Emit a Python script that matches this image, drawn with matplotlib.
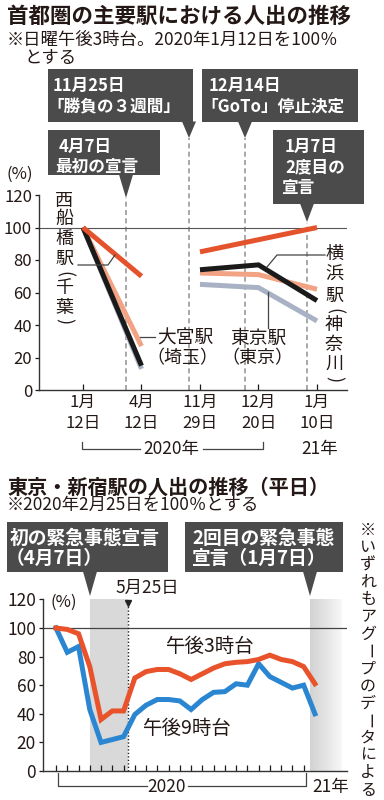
import numpy as np
import matplotlib
matplotlib.use('Agg')
import matplotlib.pyplot as plt
from matplotlib.patches import Polygon, Rectangle
from matplotlib.colors import LinearSegmentedColormap

plt.rcParams['font.family'] = ['Noto Sans CJK JP', 'DejaVu Sans']

# ---------------- data: top chart (Sunday 3pm, 2020-01-12 = 100%)
top_dates = ['1月\n12日', '4月\n12日', '11月\n29日', '12月\n20日', '1月\n10日']
nishifunabashi = [100, 70, 85, 92.5, 100]   # 西船橋駅（千葉）
omiya = [100, 27, 72, 71, 62]               # 大宮駅（埼玉）
yokohama = [100, 15, 74, 77, 55]            # 横浜駅（神奈川）
tokyo_st = [100, 13, 65, 63, 42.5]          # 東京駅（東京）
top_yticks = [0, 20, 40, 60, 80, 100, 120]
top_events_x = [0.73, 1.81, 2.77, 3.83]     # 4/7, 11/25, 12/14, 1/7

# ---------------- data: bottom chart (weekday, 2020-02-25 = 100%), biweekly
pm3 = [100, 99, 96, 73, 36, 42, 42, 65, 69.5, 71, 71, 68, 64, 68, 72, 75,
       76, 76.5, 78, 81, 78, 76.5, 73, 61]
pm9 = [100, 83, 87, 43, 20, 22, 24, 39.5, 46, 50, 50, 49, 43, 50, 55, 55.5,
       61, 60, 75, 66, 62, 58, 60, 40]
bottom_yticks = [0, 20, 40, 60, 80, 100, 120]
emergency1 = (3.0, 6.4)
emergency2 = (22.6, 25.4)
may25 = 6.4

INK = '#231815'
BOXC = '#4b4b4b'

fig = plt.figure(figsize=(3.84, 8.0), dpi=100)
W, H = 384.0, 800.0


def axrect(x0, y0, x1, y1):
    return [x0 / W, 1 - y1 / H, (x1 - x0) / W, (y1 - y0) / H]


# ---------------- top axes
ax1 = fig.add_axes(axrect(39, 195, 347, 390))
ax1.set_xlim(-0.752, 4.513)
ax1.set_ylim(0, 120)
xs = np.arange(len(top_dates))
for vals, col, z in [(tokyo_st, '#a8b2c4', 3), (omiya, '#f2a384', 4),
                     (yokohama, '#1a1a1a', 5), (nishifunabashi, '#e4532b', 6)]:
    ax1.plot(xs[:2], vals[:2], color=col, lw=3.6, solid_capstyle='butt', zorder=z)
    ax1.plot(xs[2:], vals[2:], color=col, lw=3.6, solid_capstyle='butt',
             solid_joinstyle='miter', zorder=z)
ax1.axhline(100, color='#555555', lw=0.8, zorder=1)
tops = [118, 155, 155, 103]
for ex, tp in zip(top_events_x, tops):
    ax1.plot([ex, ex], [0, tp], color='#9a9a9a', lw=1.2, ls=(0, (3, 2)),
             clip_on=False, zorder=0.5)
ax1.set_xticks(xs)
ax1.set_xticklabels(top_dates, fontsize=12, color=INK, linespacing=1.3)
ax1.set_yticks(top_yticks)
ax1.set_yticklabels([str(v) for v in top_yticks], fontsize=12, color=INK)
ax1.tick_params(axis='x', direction='in', length=4, width=0.9, pad=3, colors=INK)
ax1.tick_params(axis='y', direction='out', length=3, width=0.9, pad=2, colors=INK)
for s in ['top', 'right']:
    ax1.spines[s].set_visible(False)
for s in ['left', 'bottom']:
    ax1.spines[s].set_color('#333333')
    ax1.spines[s].set_linewidth(1.0)
ax1.patch.set_alpha(0)

# ---------------- bottom axes
ax2 = fig.add_axes(axrect(43, 599.4, 347, 771))
ax2.set_xlim(-1.155, 25.85)
ax2.set_ylim(0, 120)
idx = np.arange(len(pm3))
ax2.axvspan(*emergency1, color='#d9d9d9', lw=0, zorder=0)
grad = np.linspace(0, 1, 64).reshape(1, -1)
cmap = LinearSegmentedColormap.from_list('g', ['#d3d3d3', '#e4e4e4', '#f8f8f8'])
ax2.imshow(grad, extent=[emergency2[0], emergency2[1], 0, 120], aspect='auto',
           cmap=cmap, zorder=0)
ax2.axhline(100, color='#444444', lw=0.9, zorder=1)
ax2.plot([may25, may25], [0, 116], color='#222222', lw=1.0, ls=(0, (1, 1.5)), zorder=1)
ax2.plot([may25], [117.5], marker='v', ms=5, color='#222222', clip_on=False, zorder=3)
ax2.plot(idx, pm9, color='#2b86d2', lw=3.6, solid_joinstyle='miter', zorder=4)
ax2.plot(idx, pm3, color='#e8532b', lw=3.6, solid_joinstyle='miter', zorder=5)
ax2.set_xticks(np.arange(0, 23))
ax2.set_xticklabels([])
ax2.set_yticks(bottom_yticks)
ax2.set_yticklabels([str(v) for v in bottom_yticks], fontsize=12.5, color=INK)
ax2.tick_params(axis='x', direction='in', length=4, width=0.9, colors=INK)
ax2.tick_params(axis='y', direction='out', length=3, width=0.9, pad=2, colors=INK)
for s in ['top', 'right']:
    ax2.spines[s].set_visible(False)
for s in ['left', 'bottom']:
    ax2.spines[s].set_color('#333333')
    ax2.spines[s].set_linewidth(1.0)
ax2.set_xlim(-1.155, 25.85)
ax2.set_ylim(0, 120)

# ---------------- overlay (pixel coordinates)
ov = fig.add_axes([0, 0, 1, 1], zorder=10)
ov.set_xlim(0, W)
ov.set_ylim(H, 0)
ov.axis('off')
ov.patch.set_alpha(0)


def txt(x, y, s, size, weight='normal', color=INK, ha='left', va='center', **kw):
    ov.text(x, y, s, fontsize=size, fontweight=weight, color=color, ha=ha, va=va, **kw)


def callout(x0, y0, x1, y1, px, tip, half=7):
    ov.add_patch(Rectangle((x0, y0), x1 - x0, y1 - y0, color=BOXC, lw=0))
    ov.add_patch(Polygon([(px - half, y1 - 0.5), (px + half, y1 - 0.5), (px, tip)],
                         closed=True, color=BOXC, lw=0))


def vtext(x, ys, chars, size, weight='normal'):
    for ch, y in zip(chars, ys):
        rot = -90 if ch in '()ー' else 0
        ov.text(x, y, ch, fontsize=size, fontweight=weight, color=INK, ha='center',
                va='center', rotation=rot, rotation_mode='anchor')


# titles
txt(7, 16, '首都圏の主要駅における人出の推移', 15.5, 'bold')
txt(7, 40, '※日曜午後3時台。2020年1月12日を100％', 12.5)
txt(24, 58, 'とする', 12.5)

# top callouts
callout(48, 69, 193, 122, 189, 138)
txt(53, 86, '11月25日', 12, 'bold', 'white')
txt(47, 107, '「勝負の３週間」', 12, 'bold', 'white')
callout(202, 69, 358, 122, 245, 138)
txt(209, 86, '12月14日', 12, 'bold', 'white')
txt(201, 107, '「GoTo」停止決定', 12, 'bold', 'white')
callout(48, 130, 160, 175, 126, 198)
txt(59, 147, '4月7日', 12, 'bold', 'white')
txt(55, 167, '最初の宣言', 12, 'bold', 'white')
callout(273, 130, 364, 204, 307, 222)
txt(285, 147, '1月7日', 12, 'bold', 'white')
txt(285, 167, '2度目の', 12, 'bold', 'white')
txt(281, 188, '宣言', 12, 'bold', 'white')

txt(6, 174, '(%)', 12)

# station labels
vtext(64, [201, 219, 239, 259, 274, 288, 308, 321], '西船橋駅(千葉)', 13)
ov.plot([78, 108, 115], [265, 265, 255], color='#444444', lw=0.9)
txt(185, 338, '大宮駅', 13.5, ha='center')
txt(182, 358, '（埼玉）', 13, ha='center')
ov.plot([140, 155], [337, 337], color='#444444', lw=0.9)
txt(258, 338, '東京駅', 13.5, ha='center')
txt(257, 358, '（東京）', 13, ha='center')
ov.plot([268, 268], [292, 328], color='#444444', lw=0.9)
vtext(334, [254, 275, 296, 311, 325, 345, 364, 379], '横浜駅(神奈川)', 13)
ov.plot([325, 277, 267], [255, 255, 267], color='#444444', lw=0.9)

# top year bracket
ov.plot([82, 82, 140], [442, 449, 449], color='#444444', lw=0.9)
ov.plot([203, 263, 263], [449, 449, 442], color='#444444', lw=0.9)
txt(171, 449, '2020年', 12.5, ha='center')
txt(320, 449, '21年', 12.5, ha='center')

# second section titles
txt(7, 487, '東京・新宿駅の人出の推移（平日）', 14.5, 'bold')
txt(7, 505, '※2020年2月25日を100％とする', 12.5)

callout(7, 522, 168, 572, 90, 596)
txt(10, 538, '初の緊急事態宣言', 13.5, 'bold', 'white')
txt(6, 558, '（4月7日）', 13.5, 'bold', 'white')
callout(185, 522, 343, 572, 310, 596)
txt(192, 538, '2回目の緊急事態', 13.5, 'bold', 'white')
txt(192, 558, '宣言（1月7日）', 13.5, 'bold', 'white')

txt(147, 588, '5月25日', 12.5, ha='center')
txt(64, 602, '(%)', 12, ha='center')
txt(210, 646, '午後3時台', 14, ha='center')
txt(187, 728, '午後9時台', 14, ha='center')

# bottom year bracket
ov.plot([58, 58, 147], [773, 786, 786], color='#444444', lw=0.9)
ov.plot([188, 306, 306], [786, 786, 773], color='#444444', lw=0.9)
txt(167, 787, '2020', 12.5, ha='center')
txt(331, 787, '21年', 12.5, ha='center')

# right vertical note
note = '※いずれもアグープのデータによる'
note_y = np.linspace(530, 790, len(note))
vtext(368, note_y, note, 11.5)

fig.savefig('out.png', dpi=100, facecolor='white')
